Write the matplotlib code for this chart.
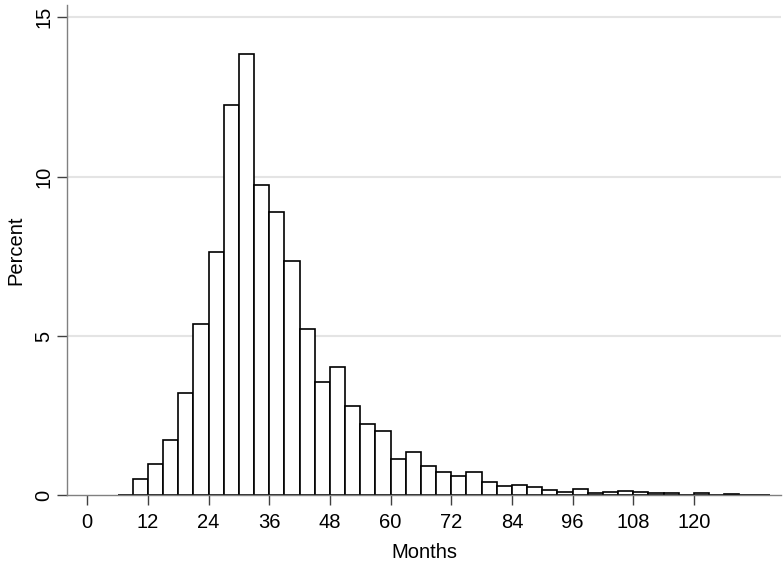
import matplotlib
matplotlib.use("Agg")
import matplotlib.pyplot as plt
import numpy as np

plt.rcParams['font.family'] = ['Liberation Sans', 'DejaVu Sans']

# Histogram bins (months), width 3, starting at 6
bin_start = 6
bin_width = 3
percent = [0.0, 0.52, 0.97, 1.73, 3.20, 5.36, 7.62, 12.24, 13.85, 9.73,
           8.90, 7.35, 5.23, 3.54, 4.01, 2.80, 2.24, 2.02, 1.14, 1.37,
           0.93, 0.72, 0.62, 0.73, 0.41, 0.30, 0.32, 0.26, 0.16, 0.10,
           0.21, 0.08, 0.09, 0.14, 0.09, 0.06, 0.06, 0.0, 0.06, 0.0,
           0.03, 0.0, 0.0]
x_ticks = [0, 12, 24, 36, 48, 60, 72, 84, 96, 108, 120]
y_ticks = [0, 5, 10, 15]

edges = bin_start + bin_width * np.arange(len(percent))

fig = plt.figure(figsize=(7.84, 5.68), dpi=100)
ax = fig.add_axes([0.0855, 0.128, 0.9105, 0.863])

for v in [5, 10, 15]:
    ax.axhline(v, color='#e4e4e4', lw=1.5, zorder=0)

ax.bar(edges, percent, width=bin_width, align='edge', facecolor='white',
       edgecolor='black', linewidth=1.2, zorder=2)

ax.set_xlim(-4, 137.2)
ax.set_ylim(0, 15.38)
ax.set_xticks(x_ticks)
ax.set_xticklabels([str(t) for t in x_ticks])
ax.set_yticks(y_ticks)
ax.set_yticklabels([str(t) for t in y_ticks], rotation=90, va='center')

for s in ['top', 'right']:
    ax.spines[s].set_visible(False)
for s in ['left', 'bottom']:
    ax.spines[s].set_color('#808080')
    ax.spines[s].set_linewidth(1.0)

ax.tick_params(axis='both', colors='#404040', labelcolor='black',
               labelsize=14.5, length=7, width=1.0)
ax.tick_params(axis='x', pad=6)
ax.tick_params(axis='y', pad=3)

ax.set_xlabel('Months', fontsize=14.5, labelpad=8)
ax.set_ylabel('Percent', fontsize=14.5, labelpad=6)

fig.savefig('out.png', dpi=100)
